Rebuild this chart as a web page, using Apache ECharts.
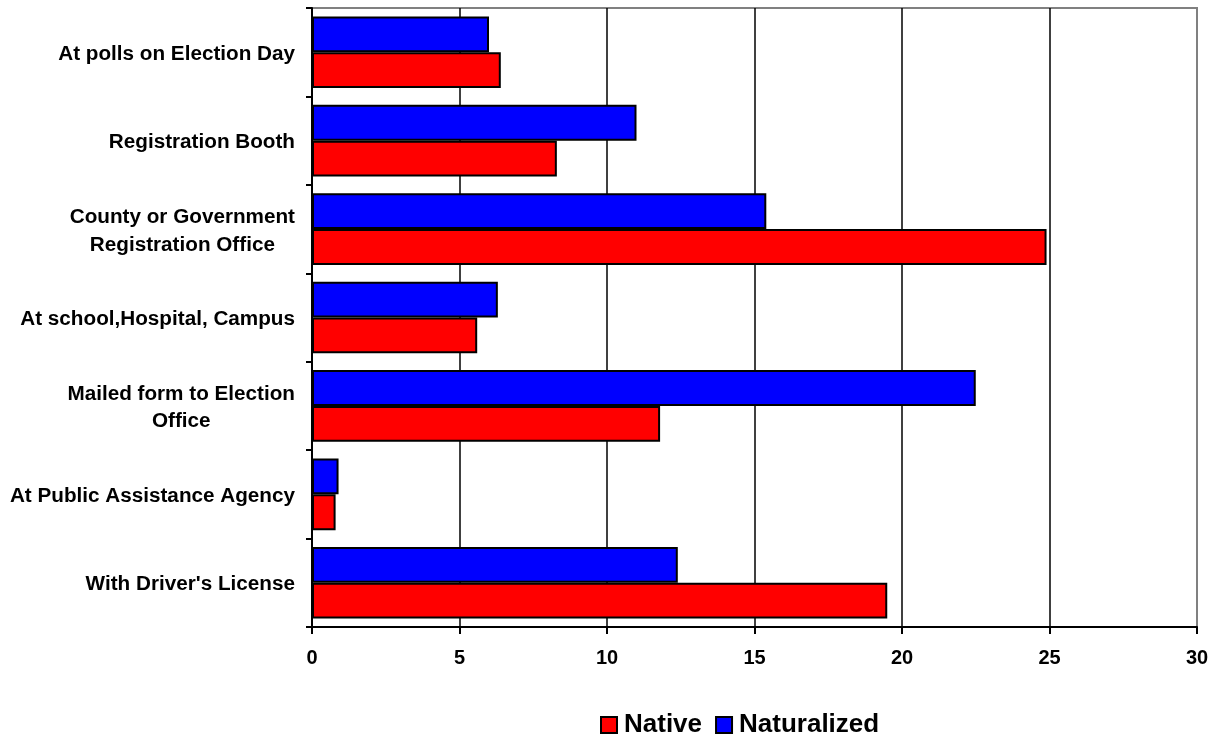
<!DOCTYPE html>
<html><head><meta charset="utf-8">
<script src="https://cdn.jsdelivr.net/npm/echarts@6/dist/echarts.min.js"></script>
<style>html,body{margin:0;padding:0;background:#fff}#c{width:1222px;height:738px}</style>
</head><body><div id="c"></div>
<script>
const categories = ["At polls on Election Day","Registration Booth","County or Government\nRegistration Office","At school,Hospital, Campus","Mailed form to Election\nOffice","At Public Assistance Agency","With Driver's License"];
const native = [6.4, 8.3, 24.9, 5.6, 11.8, 0.8, 19.5];
const naturalized = [6.0, 11.0, 15.4, 6.3, 22.5, 0.9, 12.4];
const xTicks = [0, 5, 10, 15, 20, 25, 30];

const FONT = 'Arial, "Liberation Sans", sans-serif';
const chart = echarts.init(document.getElementById('c'));
chart.setOption({
  animation: false,
  backgroundColor: '#fff',
  grid: {left: 312, right: 25, top: 8, bottom: 111, show: true, borderColor: '#808080', borderWidth: 2},
  legend: {
    data: ['Native', 'Naturalized'],
    left: 595, top: 707, icon: 'rect', itemWidth: 16, itemHeight: 16, itemGap: 13,
    textStyle: {fontFamily: FONT, fontWeight: 'bold', fontSize: 26, color: '#000', padding: [0, 0, 0, 2]},
    itemStyle: {borderColor: '#000', borderWidth: 2}
  },
  xAxis: {
    type: 'value', min: xTicks[0], max: xTicks[xTicks.length - 1], interval: 5,
    axisLine: {show: true, lineStyle: {color: '#000', width: 2}},
    axisTick: {show: true, length: 7, lineStyle: {color: '#000', width: 2}},
    axisLabel: {margin: 21, fontFamily: FONT, fontWeight: 'bold', fontSize: 20, color: '#000'},
    splitLine: {show: true, showMaxLine: false, lineStyle: {color: '#000', width: 1.5}}
  },
  yAxis: {
    type: 'category', data: categories, inverse: true,
    axisLine: {show: true, lineStyle: {color: '#000', width: 2}},
    axisTick: {show: true, length: 6, lineStyle: {color: '#000', width: 2}},
    axisLabel: {
      margin: 17, fontFamily: FONT, fontWeight: 'bold', fontSize: 20.7, color: '#000', lineHeight: 27.5,
      padding: [4, 0, 0, 0],
      formatter: v => v.split('\n').map(s => '{c|' + s + '}').join('\n'),
      rich: {c: {align: 'center', fontFamily: FONT, fontWeight: 'bold', fontSize: 20.7, color: '#000', lineHeight: 27.5}}
    }
  },
  series: [
    {name: 'Naturalized', type: 'bar', data: naturalized, barGap: '0%', barCategoryGap: '19%',
     itemStyle: {color: '#0000ff', borderColor: '#000', borderWidth: 2}},
    {name: 'Native', type: 'bar', data: native, barGap: '0%', barCategoryGap: '19%',
     itemStyle: {color: '#ff0000', borderColor: '#000', borderWidth: 2}}
  ]
});
</script></body></html>
